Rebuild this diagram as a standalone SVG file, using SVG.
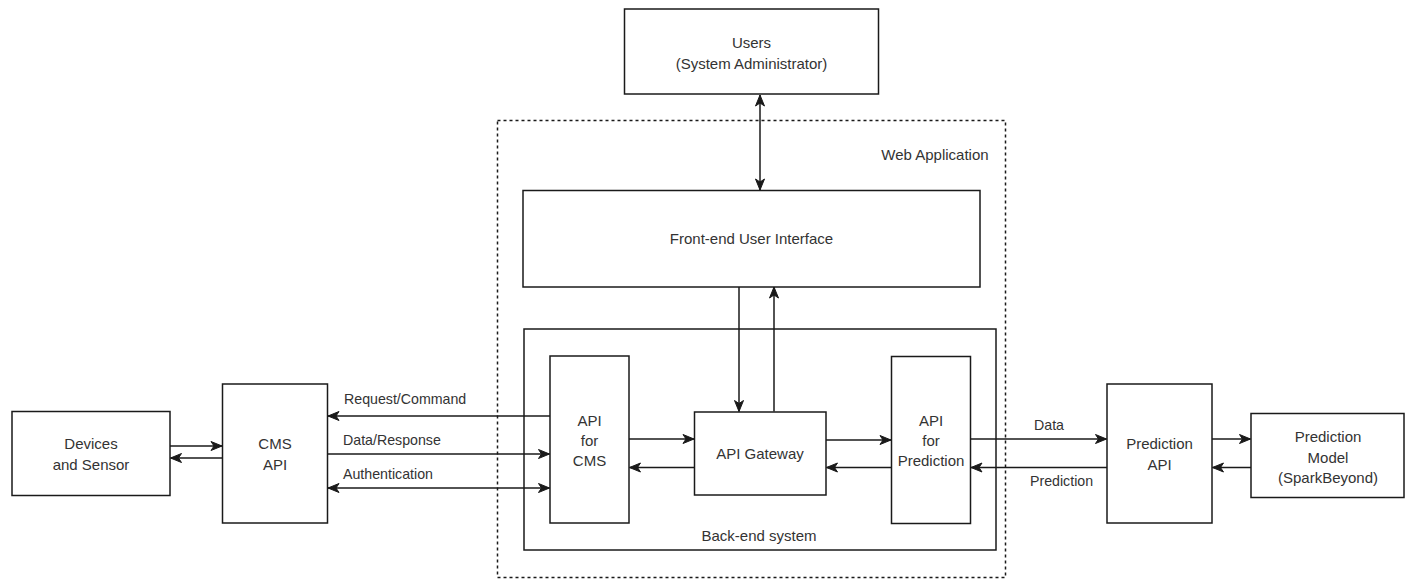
<svg xmlns="http://www.w3.org/2000/svg" width="1406" height="580" viewBox="0 0 1406 580">
<style>
  .box { fill: #ffffff; stroke: #1a1a1a; stroke-width: 1.5; }
  .dash { fill: none; stroke: #1a1a1a; stroke-width: 1.5; stroke-dasharray: 3 3; }
  .t { font-family: "Liberation Sans", Arial, sans-serif; font-size: 15px; fill: #333333; text-anchor: middle; dominant-baseline: central; }
  .lbl { font-family: "Liberation Sans", Arial, sans-serif; font-size: 14.2px; fill: #333333; dominant-baseline: central; }
  .c { fill: none; stroke: #1a1a1a; stroke-width: 1.5; }
  .end { marker-end: url(#arr); }
  .both { marker-start: url(#arrs); marker-end: url(#arr); }
</style>
<defs>
  <marker id="arr" markerUnits="userSpaceOnUse" markerWidth="14" markerHeight="12" refX="12" refY="6" orient="auto">
    <path d="M1,1.5 L12,6 L1,10.5 L4,6 Z" fill="#1a1a1a" stroke="#1a1a1a" stroke-width="1"/>
  </marker>
  <marker id="arrs" markerUnits="userSpaceOnUse" markerWidth="14" markerHeight="12" refX="1" refY="6" orient="auto">
    <path d="M12,1.5 L1,6 L12,10.5 L9,6 Z" fill="#1a1a1a" stroke="#1a1a1a" stroke-width="1"/>
  </marker>
</defs>
<rect width="1406" height="580" fill="#ffffff"/>

<g id="web-application">
  <rect class="dash" x="497.5" y="120.5" width="508" height="457"/>
  <text class="t" x="935" y="154">Web Application</text>
</g>
<g id="backend-system">
  <rect class="box" x="524" y="329" width="472" height="221"/>
  <text class="t" x="759" y="535">Back-end system</text>
</g>
<g id="users">
  <rect class="box" x="624.5" y="9" width="254" height="85"/>
  <text class="t" x="751.5" y="42">Users</text>
  <text class="t" x="751.5" y="63">(System Administrator)</text>
</g>
<g id="frontend">
  <rect class="box" x="523" y="190.5" width="457" height="96.5"/>
  <text class="t" x="751.5" y="238">Front-end User Interface</text>
</g>
<g id="devices">
  <rect class="box" x="12" y="411.5" width="158" height="84"/>
  <text class="t" x="91" y="443">Devices</text>
  <text class="t" x="91" y="464">and Sensor</text>
</g>
<g id="cms-api">
  <rect class="box" x="222.5" y="384" width="105" height="139"/>
  <text class="t" x="275" y="443">CMS</text>
  <text class="t" x="275" y="464">API</text>
</g>
<g id="api-for-cms">
  <rect class="box" x="550" y="356" width="79" height="167"/>
  <text class="t" x="589.5" y="420">API</text>
  <text class="t" x="589.5" y="440">for</text>
  <text class="t" x="589.5" y="460">CMS</text>
</g>
<g id="api-gateway">
  <rect class="box" x="694.5" y="412" width="131.5" height="83"/>
  <text class="t" x="760" y="453">API Gateway</text>
</g>
<g id="api-for-prediction">
  <rect class="box" x="891.5" y="356.5" width="79" height="167"/>
  <text class="t" x="931" y="420">API</text>
  <text class="t" x="931" y="440">for</text>
  <text class="t" x="931" y="460">Prediction</text>
</g>
<g id="prediction-api">
  <rect class="box" x="1107" y="384" width="105" height="139"/>
  <text class="t" x="1159.5" y="443">Prediction</text>
  <text class="t" x="1159.5" y="464">API</text>
</g>
<g id="prediction-model">
  <rect class="box" x="1251" y="413.5" width="153" height="84"/>
  <text class="t" x="1328" y="436">Prediction</text>
  <text class="t" x="1328" y="457">Model</text>
  <text class="t" x="1328" y="477">(SparkBeyond)</text>
</g>

<g id="connectors">
  <line class="c both" x1="760" y1="95" x2="760" y2="190"/>
  <line class="c end" x1="739" y1="287" x2="739" y2="411.5"/>
  <line class="c end" x1="774" y1="411.5" x2="774" y2="287"/>

  <line class="c end" x1="170" y1="446" x2="222" y2="446"/>
  <line class="c end" x1="222" y1="458" x2="170.5" y2="458"/>

  <line class="c end" x1="550" y1="416" x2="328" y2="416"/>
  <line class="c end" x1="328" y1="454" x2="549.5" y2="454"/>
  <line class="c both" x1="328" y1="488" x2="549.5" y2="488"/>

  <line class="c end" x1="629" y1="439" x2="694" y2="439"/>
  <line class="c end" x1="694.5" y1="467.5" x2="629.5" y2="467.5"/>

  <line class="c end" x1="826" y1="440" x2="891" y2="440"/>
  <line class="c end" x1="891.5" y1="467.5" x2="826.5" y2="467.5"/>

  <line class="c end" x1="970.5" y1="439" x2="1106.5" y2="439"/>
  <line class="c end" x1="1107" y1="467.5" x2="971" y2="467.5"/>

  <line class="c end" x1="1212" y1="439" x2="1250.5" y2="439"/>
  <line class="c end" x1="1251" y1="467.5" x2="1212.5" y2="467.5"/>

  <text class="lbl" x="344" y="399">Request/Command</text>
  <text class="lbl" x="343" y="440">Data/Response</text>
  <text class="lbl" x="343" y="474">Authentication</text>
  <text class="lbl" x="1034" y="425">Data</text>
  <text class="lbl" x="1030" y="481">Prediction</text>
</g>
</svg>
